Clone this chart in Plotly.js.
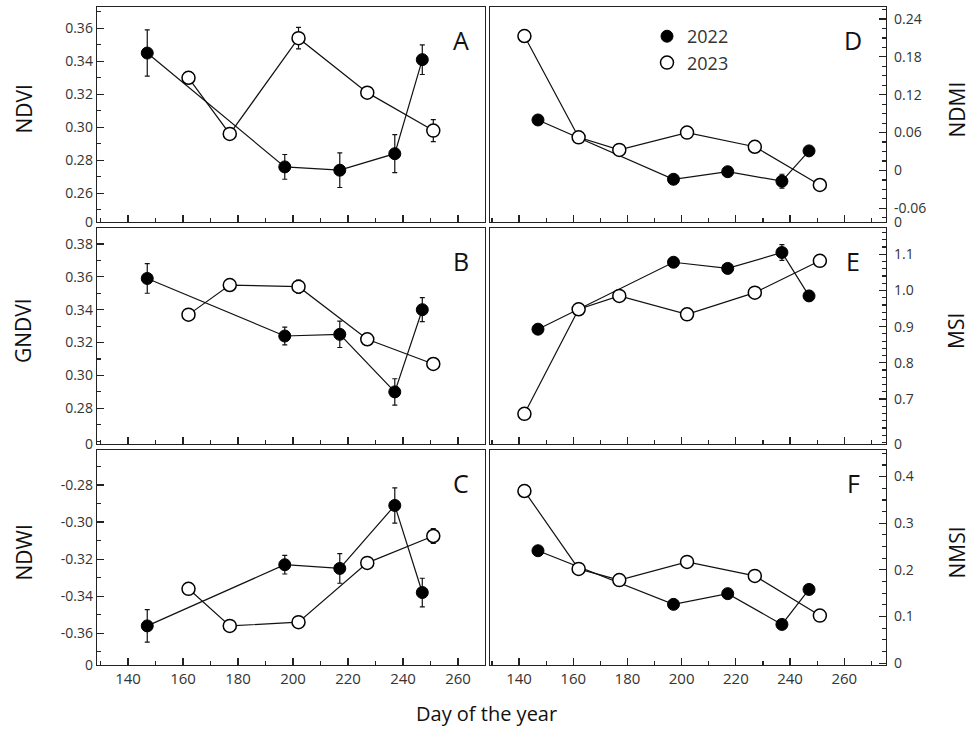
<!DOCTYPE html>
<html>
<head>
<meta charset="utf-8">
<script src="https://cdn.plot.ly/plotly-3.0.1.min.js"></script>
<style>body{margin:0;background:#fff}#chart{width:972px;height:731px}</style>
</head>
<body>
<div id="chart"></div>
<script>
// ---- data ----
const days2022 = [147, 197, 217, 237, 247];
const days2023 = [142, 162, 177, 202, 227, 251];

const ndvi2022 = [0.345, 0.276, 0.274, 0.284, 0.341];
const ndvi2022Err = [0.014, 0.0075, 0.0105, 0.0115, 0.009];
const ndvi2023 = [null, 0.330, 0.296, 0.354, 0.321, 0.298];
const ndvi2023Err = [0, 0.002, 0.002, 0.0065, 0.003, 0.0067];

const gndvi2022 = [0.359, 0.324, 0.325, 0.290, 0.340];
const gndvi2022Err = [0.009, 0.0054, 0.008, 0.008, 0.0073];
const gndvi2023 = [null, 0.337, 0.355, 0.354, 0.322, 0.307];
const gndvi2023Err = [0, 0.001, 0.001, 0.004, 0.001, 0.003];

const ndwi2022 = [-0.356, -0.323, -0.325, -0.291, -0.338];
const ndwi2022Err = [0.0088, 0.005, 0.008, 0.0095, 0.0077];
const ndwi2023 = [null, -0.336, -0.356, -0.354, -0.322, -0.3075];
const ndwi2023Err = [0, 0.001, 0.001, 0.002, 0.001, 0.004];

const ndmi2022 = [0.080, -0.014, -0.002, -0.017, 0.031];
const ndmi2022Err = [0.003, 0.003, 0.003, 0.011, 0.004];
const ndmi2023 = [0.213, 0.0525, 0.0325, 0.060, 0.0375, -0.023];
const ndmi2023Err = [0.002, 0.002, 0.002, 0.002, 0.002, 0.002];

const msi2022 = [0.893, 1.078, 1.061, 1.105, 0.985];
const msi2022Err = [0.005, 0.005, 0.005, 0.022, 0.013];
const msi2023 = [0.659, 0.948, 0.985, 0.934, 0.994, 1.082];
const msi2023Err = [0.004, 0.004, 0.004, 0.004, 0.004, 0.004];

const nmsi2022 = [0.241, 0.126, 0.149, 0.083, 0.158];
const nmsi2022Err = [0.003, 0.003, 0.003, 0.005, 0.010];
const nmsi2023 = [0.369, 0.202, 0.178, 0.217, 0.187, 0.102];
const nmsi2023Err = [0.002, 0.002, 0.002, 0.002, 0.002, 0.002];

const xTickVals = [140, 160, 180, 200, 220, 240, 260];
const seriesNames = ['2022', '2023'];
const panelLetters = ['A', 'B', 'C', 'D', 'E', 'F'];
const yTitles = ['NDVI', 'GNDVI', 'NDWI', 'NDMI', 'MSI', 'NMSI'];

// ---- layout helpers ----
const W = 972, H = 731;
const px = v => v / W;
const py = v => 1 - v / H;
const FONT = '"Open Sans", "Noto Sans", sans-serif';
const INK = '#222';
const TXT = '#333';

const rows = [[7, 222], [228, 444], [450, 665]];
const leftX = [97, 485], rightX = [490, 886];

const panels = [
  {y22: ndvi2022, e22: ndvi2022Err, y23: ndvi2023, e23: ndvi2023Err, range: [0.2426, 0.3729], ticks: [0.26, 0.28, 0.30, 0.32, 0.34, 0.36], fmt: 2, minor: 0.01, side: 'left', row: 0},
  {y22: gndvi2022, e22: gndvi2022Err, y23: gndvi2023, e23: gndvi2023Err, range: [0.2583, 0.3897], ticks: [0.28, 0.30, 0.32, 0.34, 0.36, 0.38], fmt: 2, minor: 0.01, side: 'left', row: 1},
  {y22: ndwi2022, e22: ndwi2022Err, y23: ndwi2023, e23: ndwi2023Err, range: [-0.3771, -0.2611], ticks: [-0.36, -0.34, -0.32, -0.30, -0.28], fmt: 2, minor: 0.01, side: 'left', row: 2},
  {y22: ndmi2022, e22: ndmi2022Err, y23: ndmi2023, e23: ndmi2023Err, range: [-0.0817, 0.259], ticks: [-0.06, 0, 0.06, 0.12, 0.18, 0.24], fmt: 2, minor: 0.015, side: 'right', row: 0},
  {y22: msi2022, e22: msi2022Err, y23: msi2023, e23: msi2023Err, range: [0.5756, 1.1727], ticks: [0.7, 0.8, 0.9, 1.0, 1.1], fmt: 1, minor: 0.02, side: 'right', row: 1},
  {y22: nmsi2022, e22: nmsi2022Err, y23: nmsi2023, e23: nmsi2023Err, range: [-0.004, 0.457], ticks: [0, 0.1, 0.2, 0.3, 0.4], fmt: 1, minor: 0.025, side: 'right', row: 2, realZero: true}
];

const traces = [];
const layout = {
  width: W, height: H,
  margin: {l: 0, r: 0, t: 0, b: 0},
  paper_bgcolor: '#fff', plot_bgcolor: '#fff',
  font: {family: FONT, color: TXT, size: 14},
  showlegend: true,
  legend: {x: px(647), y: py(18), xanchor: 'left', yanchor: 'top', bgcolor: 'rgba(0,0,0,0)',
           font: {size: 18, color: TXT, family: FONT}, tracegroupgap: 0, itemwidth: 30},
  annotations: [],
  hovermode: false
};

const mark22 = {symbol: 'circle', size: 12, color: '#000', line: {color: '#000', width: 1}};
const mark23 = {symbol: 'circle', size: 13, color: '#fff', line: {color: '#000', width: 1.5}};

panels.forEach((p, i) => {
  const n = i + 1;
  const xa = 'x' + (n === 1 ? '' : n), ya = 'y' + (n === 1 ? '' : n);
  const xKey = 'xaxis' + (n === 1 ? '' : n), yKey = 'yaxis' + (n === 1 ? '' : n);
  const [top, bot] = rows[p.row];
  const xd = p.side === 'left' ? leftX : rightX;
  const xr = p.side === 'left' ? [128.73, 269.8] : [129.3, 275.4];

  traces.push({
    x: days2022, y: p.y22, xaxis: xa, yaxis: ya, type: 'scatter', mode: 'lines+markers',
    name: seriesNames[0], showlegend: false,
    line: {color: '#111', width: 1.2},
    marker: mark22,
    error_y: {type: 'data', array: p.e22, visible: true, color: '#111', thickness: 1.2, width: 2.5},
    cliponaxis: false
  });
  traces.push({
    x: days2023, y: p.y23, xaxis: xa, yaxis: ya, type: 'scatter', mode: 'lines+markers',
    name: seriesNames[1], showlegend: false, connectgaps: false,
    line: {color: '#111', width: 1.2},
    marker: mark23,
    error_y: {type: 'data', array: p.e23, visible: true, color: '#111', thickness: 1.2, width: 2.5},
    cliponaxis: false
  });

  layout[xKey] = {
    domain: [px(xd[0]), px(xd[1])], range: xr, anchor: ya,
    tickmode: 'array', tickvals: xTickVals, ticktext: xTickVals.map(String),
    showticklabels: p.row === 2,
    ticks: 'inside', ticklen: 7, tickwidth: 1.2, tickcolor: INK,
    minor: {tickmode: 'linear', tick0: 130, dtick: 10, ticks: 'inside', ticklen: 4, tickwidth: 1.2, tickcolor: INK},
    showline: true, linecolor: INK, linewidth: 1.3, mirror: true,
    showgrid: false, zeroline: false, fixedrange: true,
    tickfont: {size: 15, color: TXT, family: FONT}
  };

  let tv = p.ticks.slice();
  let tt = p.ticks.map(v => v === 0 ? '0' : v.toFixed(p.fmt));
  if (!p.realZero) {
    tv = [p.range[0] + 1e-6].concat(tv);
    tt = ['0'].concat(tt);
  }
  layout[yKey] = {
    domain: [py(bot), py(top)], range: p.range, anchor: xa, side: p.side,
    tickmode: 'array', tickvals: tv, ticktext: tt,
    ticks: 'inside', ticklen: 7, tickwidth: 1.2, tickcolor: INK,
    ticklabelstandoff: p.side === 'right' ? 4 : 0,
    minor: {tickmode: 'linear', tick0: 0, dtick: p.minor, ticks: 'inside', ticklen: 4, tickwidth: 1.2, tickcolor: INK},
    showline: true, linecolor: INK, linewidth: 1.3, mirror: true,
    showgrid: false, zeroline: false, fixedrange: true,
    tickfont: {size: 14, color: TXT, family: FONT}
  };

  // panel letter
  layout.annotations.push({
    xref: 'paper', yref: 'paper', x: px(p.side === 'left' ? 461 : 853), y: py(top + 33),
    text: panelLetters[i], showarrow: false, xanchor: 'center', yanchor: 'middle',
    font: {size: 25, color: '#111', family: FONT}
  });
  // y axis title
  layout.annotations.push({
    xref: 'paper', yref: 'paper', x: px(p.side === 'left' ? 23 : 956), y: py((top + bot) / 2 - 5),
    text: yTitles[i], showarrow: false, textangle: -90, xanchor: 'center', yanchor: 'middle',
    font: {size: 21, color: '#111', family: FONT}
  });
});

// legend-only entries (markers only, as in the reference key)
traces.push({x: [null], y: [null], xaxis: 'x4', yaxis: 'y4', type: 'scatter', mode: 'markers',
             name: seriesNames[0], showlegend: true, marker: mark22});
traces.push({x: [null], y: [null], xaxis: 'x4', yaxis: 'y4', type: 'scatter', mode: 'markers',
             name: seriesNames[1], showlegend: true, marker: mark23});

layout.annotations.push({
  xref: 'paper', yref: 'paper', x: px(487), y: py(713),
  text: 'Day of the year', showarrow: false, xanchor: 'center', yanchor: 'middle',
  font: {size: 20, color: '#111', family: FONT}
});

Plotly.newPlot('chart', traces, layout, {displayModeBar: false, staticPlot: true});
</script>
</body>
</html>
